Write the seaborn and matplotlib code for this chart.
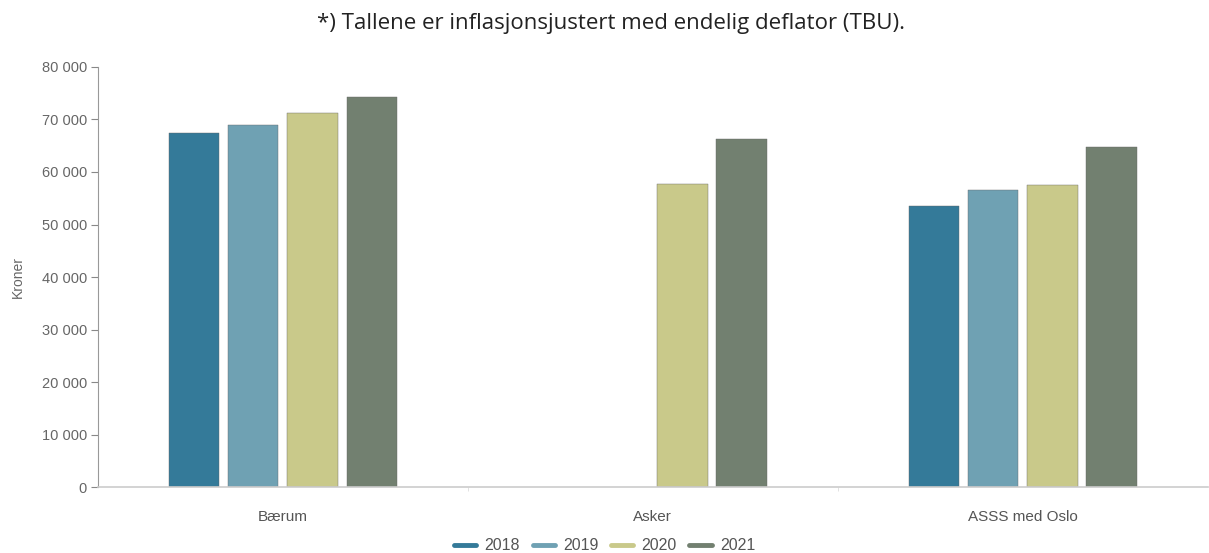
import numpy as np
import pandas as pd
import seaborn as sns
import matplotlib.pyplot as plt
from matplotlib.lines import Line2D

# data
kommuner = ['Bærum', 'Asker', 'ASSS med Oslo']
aar = ['2018', '2019', '2020', '2021']
baerum = [67400, 69000, 71200, 74300]
asker = [np.nan, np.nan, 57700, 66300]
asss = [53500, 56600, 57500, 64800]
farger = ['#347a99', '#6fa1b3', '#c9c98a', '#728070']

df = pd.DataFrame({
    'kommune': np.repeat(kommuner, len(aar)),
    'aar': aar * len(kommuner),
    'kroner': baerum + asker + asss,
})

sns.set_style('white')
plt.rcParams['font.family'] = ['Liberation Sans', 'DejaVu Sans']

fig = plt.figure(figsize=(12.09, 5.53), dpi=100)
ax = fig.add_axes([0.081, 0.119, 0.918, 0.76])

sns.barplot(data=df, x='kommune', y='kroner', hue='aar', hue_order=aar,
            palette=farger, saturation=1, width=0.64, gap=0.15, ax=ax,
            edgecolor='#666666', linewidth=0.3, legend=False)

ax.set_ylim(0, 80000)
ax.set_xlim(-0.5, 2.5)
ax.set_yticks(range(0, 80001, 10000))
ax.set_yticklabels([f'{v:,}'.replace(',', ' ') for v in range(0, 80001, 10000)])
ax.set_xticks([0.5, 1.5], minor=True)
ax.tick_params(axis='x', which='major', bottom=False, pad=13, labelsize=11, colors='#555555')
ax.tick_params(axis='x', which='minor', bottom=True, length=3, color='#dddddd')
ax.tick_params(axis='y', left=True, length=5, color='#888888', labelsize=10.5,
               labelcolor='#666666', pad=3)
ax.set_xlabel('')
ax.set_ylabel('Kroner', color='#666666', fontsize=10, labelpad=12)

sns.despine(ax=ax, top=True, right=True)
ax.spines['left'].set_color('#999999')
ax.spines['bottom'].set_color('#cccccc')
ax.spines['bottom'].set_linewidth(1.2)

fig.text(0.505, 0.958, '*) Tallene er inflasjonsjustert med endelig deflator (TBU).',
         ha='center', va='center', fontsize=16, family='Open Sans', color='#222222')

handles = [Line2D([0], [0], color=c, lw=3.5) for c in farger]
fig.legend(handles, aar, loc='center', bbox_to_anchor=(0.5, 0.013), ncol=4,
           frameon=False, fontsize=11.5, handlelength=1.4, handletextpad=0.5,
           columnspacing=0.8, labelcolor='#555555')

fig.savefig('out.png', dpi=100)
